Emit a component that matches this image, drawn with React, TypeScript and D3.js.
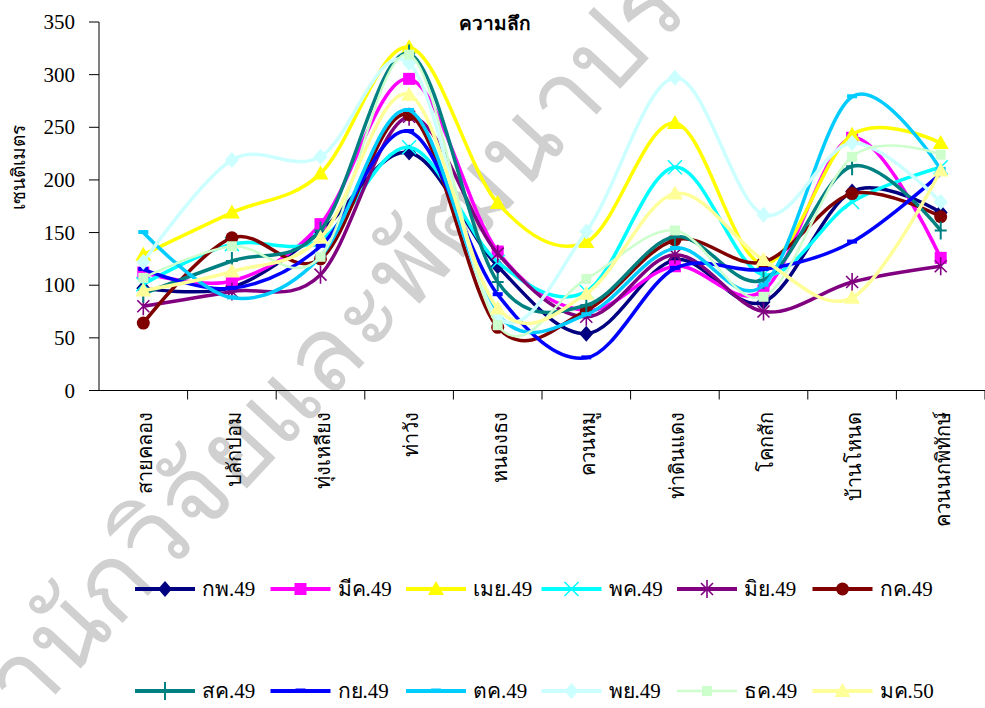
import * as d3 from "d3";

const categories = [
  "สายคลอง",
  "ปลักปอม",
  "ทุ่งเหลียง",
  "ท่าวัง",
  "หนองธง",
  "ควนหมู",
  "ท่าดินแดง",
  "โคกสัก",
  "บ้านโหนด",
  "ควนนกพิทักษ์",
];

const seriesNames = [
  "กพ.49", "มีค.49", "เมย.49", "พค.49", "มิย.49", "กค.49",
  "สค.49", "กย.49", "ตค.49", "พย.49", "ธค.49", "มค.50",
];

const feb49 = [97, 98, 151, 226, 118, 54, 124, 84, 189, 169];
const mar49 = [112, 104, 158, 296, 132, 76, 118, 95, 240, 126];
const apr49 = [129, 169, 206, 326, 178, 141, 254, 120, 243, 235];
const may49 = [101, 139, 143, 231, 122, 94, 212, 110, 179, 212];
const jun49 = [80, 94, 110, 260, 130, 70, 129, 75, 103, 118];
const jul49 = [64, 145, 125, 262, 60, 76, 143, 122, 187, 165];
const aug49 = [92, 123, 152, 320, 103, 81, 146, 105, 213, 152];
const sep49 = [115, 97, 137, 246, 91, 31, 116, 115, 141, 206];
const oct49 = [150, 88, 127, 266, 72, 72, 135, 100, 279, 210];
const nov49 = [122, 219, 222, 311, 70, 151, 297, 167, 235, 179];
const dec49 = [107, 137, 127, 319, 62, 106, 152, 89, 222, 224];
const jan50 = [95, 113, 145, 281, 78, 92, 187, 124, 88, 209];

const seriesValues = [feb49, mar49, apr49, may49, jun49, jul49, aug49, sep49, oct49, nov49, dec49, jan50];
const seriesColors = [
  "#000080", "#FF00FF", "#FFFF00", "#00FFFF", "#800080", "#800000",
  "#008080", "#0000FF", "#00CCFF", "#CCFFFF", "#CCFFCC", "#FFFF99",
];
const seriesMarkers = [
  "diamond", "square", "triangle", "x", "star", "circle",
  "plus", "dash", "dash", "diamond", "smallsquare", "triangle",
];

const yTicks = [0, 50, 100, 150, 200, 250, 300, 350];

const W = 985;
const H = 708;
const font = "'Times New Roman', 'Liberation Serif', serif";

const Marker = ({ type, x, y, color }: { type: string; x: number; y: number; color: string }) => {
  switch (type) {
    case "diamond":
      return <path d={`M${x},${y - 8}L${x + 7},${y}L${x},${y + 8}L${x - 7},${y}Z`} fill={color} />;
    case "square":
      return <rect x={x - 6} y={y - 6} width={12} height={12} fill={color} />;
    case "smallsquare":
      return <rect x={x - 5} y={y - 5} width={10} height={10} fill={color} />;
    case "triangle":
      return <path d={`M${x},${y - 8}L${x + 8},${y + 6}L${x - 8},${y + 6}Z`} fill={color} />;
    case "x":
      return (
        <path d={`M${x - 7},${y - 7}L${x + 7},${y + 7}M${x + 7},${y - 7}L${x - 7},${y + 7}`} stroke={color} strokeWidth={1.5} />
      );
    case "star":
      return (
        <path
          d={`M${x - 6},${y - 6}L${x + 6},${y + 6}M${x + 6},${y - 6}L${x - 6},${y + 6}M${x},${y - 9}L${x},${y + 9}`}
          stroke={color}
          strokeWidth={1.6}
        />
      );
    case "circle":
      return <circle cx={x} cy={y} r={6.5} fill={color} />;
    case "plus":
      return <path d={`M${x},${y - 9}L${x},${y + 9}M${x - 6},${y}L${x + 6},${y}`} stroke={color} strokeWidth={2} />;
    case "dash":
      return <rect x={x - 5} y={y - 2.5} width={10} height={4} fill={color} />;
    default:
      return null;
  }
};

export default function App() {
  const left = 99;
  const right = 985;
  const xScale = d3.scaleBand<string>().domain(categories).range([left, right]);
  const yScale = d3.scaleLinear().domain([0, 350]).range([390.5, 22]);
  const cx = (c: string) => (xScale(c) as number) + xScale.bandwidth() / 2;

  const line = d3
    .line<number>()
    .x((_, i) => cx(categories[i]))
    .y((d) => yScale(d))
    .curve(d3.curveCardinal.tension(0));

  const y0 = yScale(0);

  return (
    <svg
      width={W}
      height={H}
      style={{ position: "absolute", left: 0, top: 0, background: "#fff" }}
      fontFamily={font}
    >
      <rect width={W} height={H} fill="#fff" />
      {/* watermark */}
      <text
        transform="translate(-15,770) rotate(-47)"
        fontSize={104}
        fill="#d0d0d0"
        fontWeight={300}
        fontFamily="'Noto Sans', sans-serif"
      >
        สำนักวิจัยและพัฒนาประมง
      </text>

      {/* axes */}
      <line x1={left} x2={left} y1={yScale(350)} y2={y0} stroke="#000" />
      <line x1={left} x2={right} y1={y0} y2={y0} stroke="#000" />
      {yTicks.map((t) => (
        <g key={t}>
          <line x1={left - 10} x2={left} y1={yScale(t)} y2={yScale(t)} stroke="#000" />
          <text x={75} y={yScale(t)} textAnchor="end" dominantBaseline="central" fontSize={21}>
            {t}
          </text>
        </g>
      ))}
      {categories.map((c, i) => (
        <line
          key={"t" + i}
          x1={(xScale(c) as number) + xScale.bandwidth()}
          x2={(xScale(c) as number) + xScale.bandwidth()}
          y1={y0}
          y2={y0 + 9}
          stroke="#000"
        />
      ))}
      {categories.map((c) => (
        <text
          key={c}
          transform={`translate(${cx(c) + 2},412) rotate(-90)`}
          textAnchor="end"
          dominantBaseline="central"
          fontSize={20}
        >
          {c}
        </text>
      ))}

      <text x={495} y={30} textAnchor="middle" fontSize={19} fontWeight="bold">
        ความลึก
      </text>
      <text
        transform="translate(18,167) rotate(-90)"
        textAnchor="middle"
        dominantBaseline="central"
        fontSize={19}
      >
        เซนติเมตร
      </text>

      {/* series */}
      {seriesValues.map((vals, s) => (
        <g key={seriesNames[s]}>
          <path
            d={line(vals) || ""}
            fill="none"
            stroke={seriesColors[s]}
            strokeWidth={s === 10 ? 2.5 : 3.5}
            strokeLinejoin="round"
          />
          {vals.map((v, i) => (
            <Marker key={i} type={seriesMarkers[s]} x={cx(categories[i])} y={yScale(v)} color={seriesColors[s]} />
          ))}
        </g>
      ))}

      {/* legend */}
      {seriesNames.map((name, s) => {
        const row = Math.floor(s / 6);
        const col = s % 6;
        const lx = 135 + col * 135.5;
        const ly = row === 0 ? 589 : 691;
        return (
          <g key={"lg" + s}>
            <line x1={lx} x2={lx + 60} y1={ly} y2={ly} stroke={seriesColors[s]} strokeWidth={s === 10 ? 2.5 : 4} />
            <Marker type={seriesMarkers[s]} x={lx + 30} y={ly} color={seriesColors[s]} />
            <text x={lx + 67} y={ly} dominantBaseline="central" fontSize={21}>
              {name}
            </text>
          </g>
        );
      })}
    </svg>
  );
}
